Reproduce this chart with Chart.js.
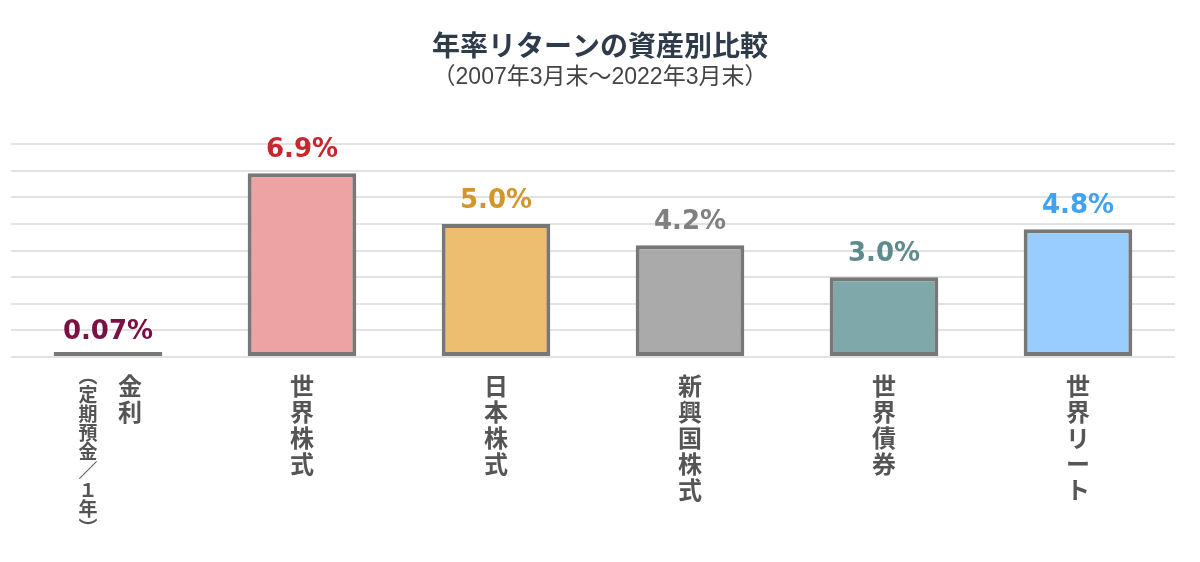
<!DOCTYPE html>
<html><head><meta charset="utf-8">
<script src="https://cdn.jsdelivr.net/npm/chart.js@4.4.0/dist/chart.umd.min.js"></script>
<style>html,body{margin:0;padding:0;background:#fff;}#wrap{width:1200px;height:562px;position:relative;}</style>
</head><body><div id="wrap"><canvas id="c" width="1200" height="562"></canvas></div>
<script>
const titleText = '年率リターンの資産別比較';
const subtitleText = '（2007年3月末～2022年3月末）';
const categories = ['金利', '世界株式', '日本株式', '新興国株式', '世界債券', '世界リート'];
const subLabels = ['︵定期預金／１年︶', '', '', '', '', ''];
const values = [0.07, 6.9, 5.0, 4.2, 3.0, 4.8];
const valueLabels = ['0.07%', '6.9%', '5.0%', '4.2%', '3.0%', '4.8%'];
const barColors = ['#8a8a8a', '#EDA3A3', '#EDBE6F', '#AAAAAA', '#7FA8AA', '#99CCFF'];
const labelColors = ['#7A1044', '#C7282F', '#D4962B', '#808080', '#5E8B8D', '#3FA2F2'];
const yMax = 8;

const textPlugin = {
  id: 'texts',
  afterDraw(chart) {
    const ctx = chart.ctx;
    const xs = chart.scales.x, ys = chart.scales.y;
    ctx.save();
    ctx.textAlign = 'center';
    ctx.textBaseline = 'middle';
    ctx.fillStyle = '#2E3B4A';
    ctx.font = 'bold 28px "Noto Sans CJK JP", sans-serif';
    ctx.fillText(titleText, 600, 45);
    ctx.fillStyle = '#444';
    ctx.font = '23px "Liberation Sans", "Noto Sans CJK JP", sans-serif';
    ctx.fillText(subtitleText, 600, 78);
    // value labels
    ctx.font = 'bold 26px "DejaVu Sans", Verdana, sans-serif';
    ctx.textBaseline = 'alphabetic';
    values.forEach((v, i) => {
      const x = xs.getPixelForValue(i);
      const y = ys.getPixelForValue(v);
      ctx.fillStyle = labelColors[i];
      ctx.fillText(valueLabels[i], x, y - 16);
    });
    // vertical category labels
    ctx.fillStyle = '#555';
    ctx.textBaseline = 'top';
    categories.forEach((c, i) => {
      let x = xs.getPixelForValue(i);
      const sub = subLabels[i];
      if (sub) {
        const colX = x + 22;
        ctx.font = 'bold 24px "Noto Sans CJK JP", sans-serif';
        [...c].forEach((ch, k) => ctx.fillText(ch, colX, 374 + k * 26));
        ctx.font = 'bold 19px "Noto Sans CJK JP", sans-serif';
        [...sub].forEach((ch, k) => ctx.fillText(ch, x - 20, 366 + k * 19));
      } else {
        ctx.font = 'bold 24px "Noto Sans CJK JP", sans-serif';
        [...c].forEach((ch, k) => ctx.fillText(ch, x, 374 + k * 26));
      }
    });
    ctx.restore();
  }
};

new Chart(document.getElementById('c'), {
  type: 'bar',
  data: {
    labels: categories,
    datasets: [{
      data: values,
      backgroundColor: barColors,
      borderColor: '#777777',
      borderWidth: 4,
      borderSkipped: false,
      minBarLength: 5,
      barPercentage: 0.56,
      categoryPercentage: 1.0
    }]
  },
  options: {
    responsive: false,
    animation: false,
    devicePixelRatio: 1,
    layout: { padding: { top: 144, bottom: 205, left: 11, right: 25 } },
    plugins: { legend: { display: false }, tooltip: { enabled: false }, title: { display: false } },
    scales: {
      x: { display: false },
      y: {
        min: 0, max: yMax,
        ticks: { display: false, stepSize: 1 },
        border: { display: false },
        grid: { color: '#E2E2E2', lineWidth: 2, drawTicks: false }
      }
    }
  },
  plugins: [textPlugin]
});
</script></body></html>
